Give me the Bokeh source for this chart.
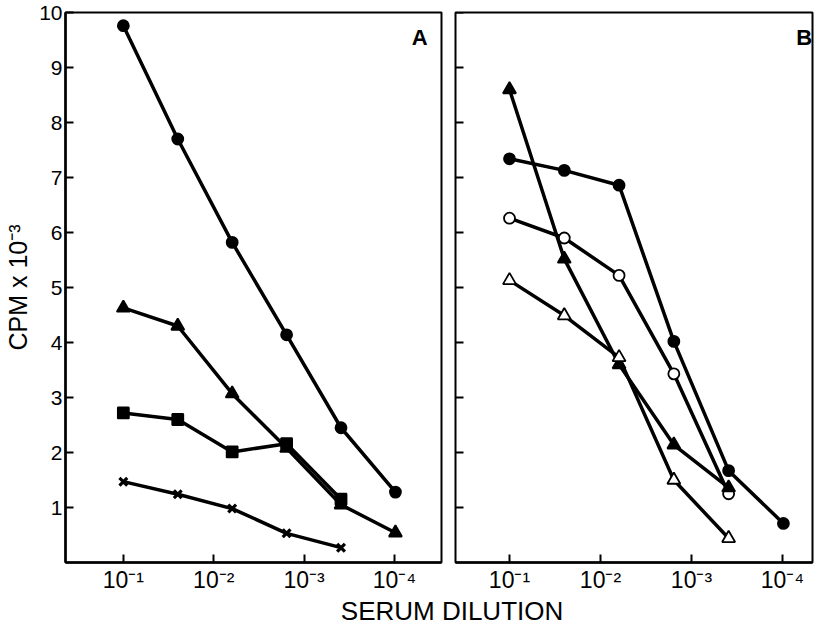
from bokeh.plotting import figure
from bokeh.models import Range1d, FixedTicker, CustomJSTickFormatter, Label
from bokeh.layouts import column, row
from bokeh.embed import file_html
from bokeh.resources import INLINE

# ---- data ----
reciprocal_dilution = [10, 40, 160, 640, 2560, 10240]   # 10^-1 ... 10^-4 (4-fold steps)
x_tick_values = [10, 100, 1000, 10000]
y_tick_values = [1, 2, 3, 4, 5, 6, 7, 8, 9, 10]

# Panel A (CPM x 10^-3)
a_filled_circle = [9.76, 7.70, 5.82, 4.14, 2.45, 1.28]
a_filled_triangle = [4.63, 4.30, 3.07, 2.08, 1.05, 0.54]
a_filled_square = [2.72, 2.60, 2.01, 2.16, 1.15]
a_cross = [1.47, 1.24, 0.98, 0.53, 0.27]

# Panel B (CPM x 10^-3)
b_filled_circle = [7.34, 7.13, 6.86, 4.02, 1.67, 0.71]
b_open_circle = [6.26, 5.90, 5.22, 3.43, 1.25]
b_filled_triangle = [8.60, 5.52, 3.60, 2.14, 1.36]
b_open_triangle = [5.13, 4.49, 3.73, 1.50, 0.44]

FONT = "Liberation Sans"

sup_formatter_code = """
const sup = {"1": "\u00b9", "2": "\u00b2", "3": "\u00b3", "4": "\u2074"};
const e = Math.round(Math.log10(tick));
return "10\u207b" + sup[String(e)];
"""


def style(p):
    p.xgrid.visible = False
    p.ygrid.visible = False
    p.outline_line_color = "black"
    p.outline_line_width = 2
    p.background_fill_color = "white"
    p.border_fill_color = "white"
    axes = [p.xaxis[0]] + (list(p.yaxis) if p.yaxis else [])
    for ax in axes:
        ax.axis_line_width = 2.5
        ax.axis_line_color = "black"
        ax.major_tick_in = 8
        ax.major_tick_out = 0
        ax.major_tick_line_width = 2
        ax.major_tick_line_color = "black"
        ax.minor_tick_line_color = None
        ax.major_label_text_color = "black"
    xa = p.xaxis[0]
    xa.ticker = FixedTicker(ticks=x_tick_values)
    xa.formatter = CustomJSTickFormatter(code=sup_formatter_code)
    xa.major_label_text_font = FONT
    xa.major_label_text_font_size = "23px"
    xa.major_label_standoff = 4


def series(p, ys, marker, fill, size, lw=3.5):
    xs = reciprocal_dilution[:len(ys)]
    p.line(xs, ys, line_color="black", line_width=lw)
    if marker == "x":
        p.scatter(xs, ys, marker="x", size=size, line_color="black", line_width=3.2)
    else:
        p.scatter(xs, ys, marker=marker, size=size, fill_color=fill,
                  line_color="black", line_width=1.8)


# ---- panel A ----
pA = figure(width=448, height=595, x_axis_type="log",
            x_range=Range1d(10 ** 0.36, 10 ** 4.52), y_range=Range1d(0, 10),
            output_backend="svg", toolbar_location=None,
            min_border_left=65, min_border_right=7, min_border_top=12, min_border_bottom=30)
style(pA)
ya = pA.yaxis[0]
ya.ticker = FixedTicker(ticks=y_tick_values)
ya.major_label_text_font = FONT
ya.major_label_text_font_size = "21px"
ya.major_label_standoff = 3
ya.axis_label = "CPM x 10\u207b\u00b3"
ya.axis_label_text_font = FONT
ya.axis_label_text_font_size = "25px"
ya.axis_label_text_font_style = "normal"
ya.axis_label_text_color = "black"
ya.axis_label_standoff = 4

series(pA, a_filled_circle, "circle", "black", 11)
series(pA, a_filled_triangle, "triangle", "black", 13)
series(pA, a_filled_square, "square", "black", 11)
series(pA, a_cross, "x", "black", 11)
pA.add_layout(Label(x=10 ** 4.28, y=9.55, text="A", text_align="center", text_baseline="middle",
                    text_font=FONT, text_font_size="22px", text_font_style="bold",
                    text_color="black"))

# ---- panel B ----
b_start = 10 ** 0.4066
pB = figure(width=366, height=595, x_axis_type="log", y_axis_location=None,
            x_range=Range1d(b_start, 10 ** 4.33), y_range=Range1d(0, 10),
            output_backend="svg", toolbar_location=None,
            min_border_left=7, min_border_right=2, min_border_top=12, min_border_bottom=30)
style(pB)
# inward y ticks on panel B's left edge (no labels)
pB.ray(x=[b_start] * len(y_tick_values), y=y_tick_values, length=8, length_units="screen",
       angle=0, line_color="black", line_width=2)

series(pB, b_filled_circle, "circle", "black", 11)
series(pB, b_open_circle, "circle", "white", 11)
series(pB, b_filled_triangle, "triangle", "black", 13)
series(pB, b_open_triangle, "triangle", "white", 13)
pB.add_layout(Label(x=10 ** 4.24, y=9.55, text="B", text_align="center", text_baseline="middle",
                    text_font=FONT, text_font_size="22px", text_font_style="bold",
                    text_color="black"))

# ---- shared x-axis title ----
pL = figure(width=814, height=30, x_range=Range1d(0, 1), y_range=Range1d(0, 1),
            x_axis_location=None, y_axis_location=None,
            output_backend="svg", toolbar_location=None, min_border=0)
pL.xgrid.visible = False
pL.ygrid.visible = False
pL.outline_line_color = None
pL.border_fill_color = "white"
pL.add_layout(Label(x=0.5547, y=0.5, text="SERUM DILUTION", text_align="center",
                    text_baseline="middle", text_font=FONT,
                    text_font_size="26px", text_color="black"))

layout = column(row(pA, pB), pL)

with open("out.html", "w") as f:
    f.write(file_html(layout, INLINE))
